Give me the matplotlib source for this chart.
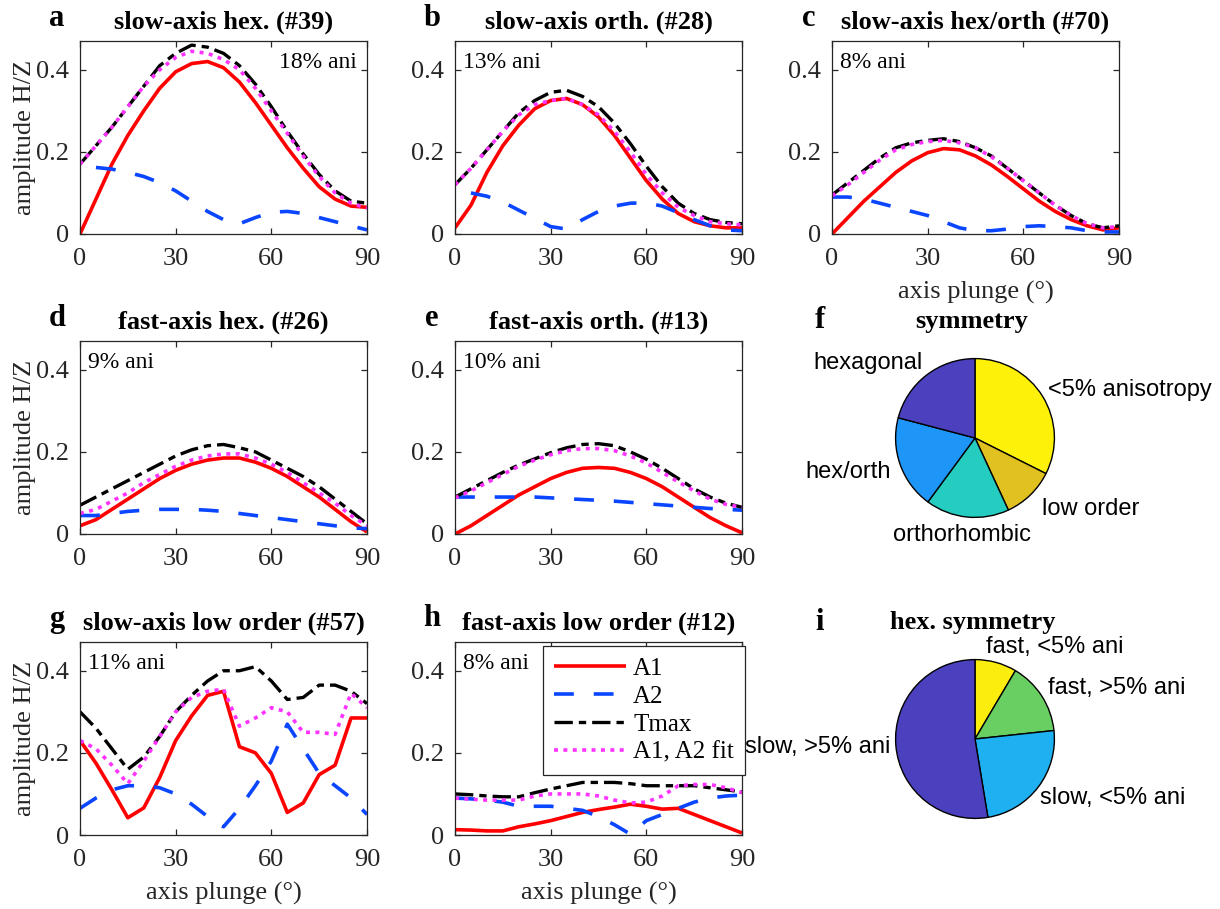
import numpy as np
import matplotlib
matplotlib.use("Agg")
import matplotlib.pyplot as plt

plt.rcParams['font.family'] = ['Liberation Serif', 'DejaVu Serif']
plt.rcParams['axes.linewidth'] = 0.9

# plunge angle of the axis (deg)
plunge = np.arange(0, 95, 5)
nan = np.nan

# ---- panel data: A1, A2, Tmax, A1/A2 fit ----
a_A1 = [0, 0.085, 0.17, 0.24, 0.30, 0.355, 0.395, 0.415, 0.42, 0.405, 0.37, 0.32, 0.265, 0.21, 0.16, 0.115, 0.085, 0.068, 0.065]
a_A2 = [nan, 0.162, 0.158, 0.15, 0.14, 0.125, 0.105, 0.08, 0.055, 0.035, 0.025, 0.04, 0.053, 0.055, 0.05, 0.04, 0.03, 0.02, 0.01]
a_T = [0.17, 0.215, 0.26, 0.31, 0.36, 0.41, 0.44, 0.46, 0.455, 0.44, 0.41, 0.365, 0.31, 0.25, 0.195, 0.145, 0.105, 0.08, 0.075]
a_fit = [0.17, 0.215, 0.26, 0.31, 0.36, 0.40, 0.43, 0.445, 0.44, 0.425, 0.40, 0.355, 0.30, 0.245, 0.19, 0.14, 0.10, 0.075, 0.063]

b_A1 = [0.015, 0.07, 0.15, 0.215, 0.265, 0.305, 0.325, 0.33, 0.315, 0.285, 0.24, 0.185, 0.13, 0.085, 0.05, 0.03, 0.02, 0.015, 0.015]
b_A2 = [nan, 0.1, 0.092, 0.078, 0.058, 0.038, 0.018, 0.012, 0.035, 0.055, 0.068, 0.075, 0.076, 0.068, 0.052, 0.035, 0.02, 0.01, 0.008]
b_T = [0.12, 0.16, 0.205, 0.25, 0.295, 0.325, 0.345, 0.35, 0.335, 0.31, 0.27, 0.22, 0.165, 0.115, 0.075, 0.05, 0.035, 0.028, 0.025]
b_fit = [0.12, 0.16, 0.205, 0.25, 0.29, 0.315, 0.325, 0.33, 0.315, 0.29, 0.25, 0.20, 0.145, 0.10, 0.065, 0.045, 0.03, 0.025, 0.022]

c_A1 = [0, 0.04, 0.08, 0.115, 0.15, 0.178, 0.198, 0.208, 0.205, 0.19, 0.168, 0.14, 0.11, 0.08, 0.055, 0.035, 0.02, 0.01, 0.015]
c_A2 = [0.09, 0.09, 0.085, 0.075, 0.065, 0.055, 0.045, 0.03, 0.015, 0.008, 0.008, 0.012, 0.018, 0.02, 0.018, 0.015, 0.008, 0.005, 0.005]
c_T = [0.095, 0.125, 0.155, 0.185, 0.21, 0.222, 0.228, 0.232, 0.225, 0.21, 0.19, 0.16, 0.13, 0.10, 0.07, 0.045, 0.025, 0.015, 0.02]
c_fit = [0.093, 0.12, 0.15, 0.18, 0.205, 0.218, 0.225, 0.228, 0.222, 0.21, 0.188, 0.16, 0.13, 0.10, 0.07, 0.045, 0.025, 0.015, 0.018]

d_A1 = [0.02, 0.035, 0.06, 0.085, 0.11, 0.135, 0.155, 0.17, 0.18, 0.185, 0.185, 0.175, 0.16, 0.14, 0.115, 0.09, 0.06, 0.03, 0.005]
d_A2 = [0.045, 0.045, 0.05, 0.055, 0.058, 0.06, 0.06, 0.06, 0.058, 0.055, 0.05, 0.045, 0.04, 0.035, 0.03, 0.025, 0.02, 0.015, 0.013]
d_T = [0.07, 0.09, 0.11, 0.13, 0.15, 0.17, 0.19, 0.205, 0.215, 0.218, 0.21, 0.20, 0.18, 0.16, 0.14, 0.115, 0.085, 0.055, 0.025]
d_fit = [0.05, 0.06, 0.08, 0.10, 0.125, 0.145, 0.165, 0.18, 0.19, 0.195, 0.195, 0.185, 0.17, 0.15, 0.125, 0.10, 0.075, 0.045, 0.02]

e_A1 = [0, 0.02, 0.045, 0.07, 0.095, 0.115, 0.135, 0.15, 0.16, 0.162, 0.16, 0.15, 0.135, 0.115, 0.09, 0.065, 0.04, 0.02, 0.003]
e_A2 = [0.09, 0.09, 0.09, 0.09, 0.09, 0.09, 0.088, 0.086, 0.084, 0.082, 0.08, 0.077, 0.074, 0.071, 0.068, 0.065, 0.062, 0.06, 0.058]
e_T = [0.09, 0.11, 0.13, 0.15, 0.168, 0.183, 0.198, 0.21, 0.218, 0.22, 0.215, 0.20, 0.182, 0.16, 0.135, 0.11, 0.09, 0.075, 0.065]
e_fit = [0.088, 0.105, 0.125, 0.145, 0.165, 0.18, 0.193, 0.203, 0.208, 0.208, 0.203, 0.19, 0.173, 0.15, 0.127, 0.105, 0.085, 0.072, 0.065]

g_A1 = [0.23, 0.175, 0.11, 0.042, 0.066, 0.14, 0.23, 0.29, 0.34, 0.35, 0.215, 0.20, 0.15, 0.055, 0.078, 0.147, 0.17, 0.285, 0.285]
g_A2 = [0.065, 0.09, 0.11, 0.12, 0.12, 0.115, 0.10, 0.075, 0.045, 0.02, 0.065, 0.12, 0.18, 0.27, 0.21, 0.15, 0.12, 0.09, 0.05]
g_T = [0.30, 0.26, 0.21, 0.16, 0.19, 0.24, 0.30, 0.34, 0.375, 0.40, 0.40, 0.41, 0.375, 0.33, 0.335, 0.365, 0.365, 0.35, 0.32]
g_fit = [0.23, 0.21, 0.17, 0.125, 0.18, 0.24, 0.30, 0.335, 0.35, 0.355, 0.265, 0.285, 0.31, 0.30, 0.25, 0.25, 0.245, 0.345, 0.31]

h_A1 = [0.013, 0.012, 0.01, 0.01, 0.02, 0.027, 0.035, 0.045, 0.055, 0.062, 0.068, 0.075, 0.07, 0.063, 0.065, 0.05, 0.035, 0.02, 0.005]
h_A2 = [0.09, 0.088, 0.085, 0.08, 0.07, 0.07, 0.07, 0.065, 0.06, 0.045, 0.025, 0.002, 0.035, 0.05, 0.065, 0.08, 0.09, 0.095, 0.097]
h_T = [0.10, 0.098, 0.095, 0.093, 0.093, 0.103, 0.112, 0.12, 0.128, 0.128, 0.128, 0.125, 0.12, 0.12, 0.12, 0.12, 0.115, 0.11, 0.105]
h_fit = [0.09, 0.087, 0.085, 0.085, 0.085, 0.095, 0.10, 0.10, 0.10, 0.095, 0.085, 0.078, 0.08, 0.095, 0.12, 0.123, 0.123, 0.115, 0.103]

letters = ['a', 'b', 'c', 'd', 'e', 'g', 'h']
titles = ['slow-axis hex. (#39)', 'slow-axis orth. (#28)', 'slow-axis hex/orth (#70)',
          'fast-axis hex. (#26)', 'fast-axis orth. (#13)',
          'slow-axis low order (#57)', 'fast-axis low order (#12)']
ani_text = ['18% ani', '13% ani', '8% ani', '9% ani', '10% ani', '11% ani', '8% ani']
series = [(a_A1, a_A2, a_T, a_fit), (b_A1, b_A2, b_T, b_fit), (c_A1, c_A2, c_T, c_fit),
          (d_A1, d_A2, d_T, d_fit), (e_A1, e_A2, e_T, e_fit),
          (g_A1, g_A2, g_T, g_fit), (h_A1, h_A2, h_T, h_fit)]
legend_names = ['A1', 'A2', 'Tmax', 'A1, A2 fit']

# pie data
sym_labels = ['<5% anisotropy', 'low order', 'orthorhombic', 'hex/orth', 'hexagonal']
sym_pct = [32.4, 10.7, 17.0, 19.0, 20.9]
hex_labels = ['fast, <5% ani', 'fast, >5% ani', 'slow, <5% ani', 'slow, >5% ani']
hex_pct = [8.5, 14.8, 24.1, 52.6]

W, H = 1220, 909
fig = plt.figure(figsize=(12.2, 9.09), dpi=100)

def px_axes(left, top, w, h):
    return fig.add_axes([left / W, 1 - (top + h) / H, w / W, h / H])

# pixel positions of the line plots
lefts = [80, 455, 832, 80, 455, 80, 455]
tops = [41, 41, 41, 341, 341, 642, 642]
ani_right = [True, False, False, False, False, False, False]
xlab = [False, False, True, False, False, True, True]
ylab = [True, False, False, True, False, True, False]

grey = '#262626'
axes = []
for k in range(7):
    ax = px_axes(lefts[k], tops[k], 287, 193)
    A1, A2, T, fit = series[k]
    ax.plot(plunge, A1, color='#ff0000', lw=2.6, label=legend_names[0], solid_capstyle='butt')
    ax.plot(plunge, A2, color='#0a46ff', lw=2.6, dashes=(5.5, 5.5), label=legend_names[1])
    ax.plot(plunge, T, color='black', lw=2.4, dashes=(5.5, 1.8, 2.2, 1.8), label=legend_names[2])
    ax.plot(plunge, fit, color='#ff33ff', lw=2.6, dashes=(1.1, 1.5), label=legend_names[3])
    ax.set_xlim(0, 90)
    ax.set_ylim(0, 0.47)
    ax.set_xticks([0, 30, 60, 90])
    ax.set_yticks([0, 0.2, 0.4])
    ax.set_yticklabels(['0', '0.2', '0.4'])
    ax.tick_params(direction='in', length=4, width=0.9, top=True, right=True,
                   labelsize=19, colors=grey)
    ax.tick_params(axis='x', pad=10)
    ax.tick_params(axis='y', pad=8)
    for s in ax.spines.values():
        s.set_color(grey)
    ax.set_title(titles[k], fontsize=19, fontweight='bold', pad=9)
    ax.text(-0.08, 1.0 + 23 / 193, letters[k], transform=ax.transAxes, fontsize=22,
            fontweight='bold', ha='center', va='center')
    if ani_right[k]:
        ax.text(0.965, 0.89, ani_text[k], transform=ax.transAxes, fontsize=17, ha='right', va='center')
    else:
        ax.text(0.028, 0.89, ani_text[k], transform=ax.transAxes, fontsize=17, ha='left', va='center')
    if ylab[k]:
        ax.set_ylabel('amplitude H/Z', fontsize=19, color=grey)
        ax.yaxis.set_label_coords(-0.155, 0.5)
    if xlab[k]:
        ax.set_xlabel('axis plunge (\u00b0)', fontsize=19, color=grey)
        ax.xaxis.set_label_coords(0.5, -0.245)
    axes.append(ax)

ax_h = axes[6]
ax_h.set_zorder(5)
leg = ax_h.legend(loc='upper left', bbox_to_anchor=(543 / W, 1 - 646 / H),
                  bbox_transform=fig.transFigure, borderaxespad=0, fontsize=18,
                  handlelength=2.85, handletextpad=0.3, labelspacing=0.22,
                  fancybox=False, framealpha=1, edgecolor=grey, borderpad=0.45)
leg.get_frame().set_linewidth(0.9)

# ---- pies ----
sym_colors = ['#fdf10a', '#e1c11f', '#25cdc0', '#1e96f8', '#4b41be']
hex_colors = ['#fbee0f', '#6acf62', '#1eb0f0', '#4b41be']
sans = ['Liberation Sans', 'DejaVu Sans']

def pie_axes(cx, cy, r, vals, cols):
    ax = px_axes(cx - r, cy - r, 2 * r, 2 * r)
    ax.pie(vals, colors=cols, startangle=90, counterclock=False, radius=1,
           wedgeprops=dict(edgecolor='black', linewidth=1.0))
    ax.set_xlim(-1.02, 1.02)
    ax.set_ylim(-1.02, 1.02)
    ax.set_aspect('equal')
    ax.axis('off')
    return ax

pie_axes(975, 438, 81, sym_pct, sym_colors)
pie_axes(975, 739, 81, hex_pct, hex_colors)

def ftext(x, y, s, **kw):
    fig.text(x / W, 1 - y / H, s, **kw)

ftext(820, 321, 'f', fontsize=22, fontweight='bold', ha='center', va='center')
ftext(972, 322, 'symmetry', fontsize=19, fontweight='bold', ha='center', va='center')
ftext(820, 623, 'i', fontsize=22, fontweight='bold', ha='center', va='center')
ftext(973, 623, 'hex. symmetry', fontsize=19, fontweight='bold', ha='center', va='center')

# symmetry pie labels
ftext(1048, 390, sym_labels[0], family=sans, fontsize=17, ha='left', va='center')
ftext(1042, 509, sym_labels[1], family=sans, fontsize=17, ha='left', va='center')
ftext(962, 535, sym_labels[2], family=sans, fontsize=17, ha='center', va='center')
ftext(848, 472, sym_labels[3], family=sans, fontsize=17, ha='center', va='center')
ftext(868, 363, sym_labels[4], family=sans, fontsize=17, ha='center', va='center')

# hex pie labels
ftext(986, 647, hex_labels[0], family=sans, fontsize=17, ha='left', va='center')
ftext(1048, 688, hex_labels[1], family=sans, fontsize=17, ha='left', va='center')
ftext(1040, 798, hex_labels[2], family=sans, fontsize=17, ha='left', va='center')
ftext(890, 747, hex_labels[3], family=sans, fontsize=17, ha='right', va='center')

fig.savefig('out.png', dpi=100)
